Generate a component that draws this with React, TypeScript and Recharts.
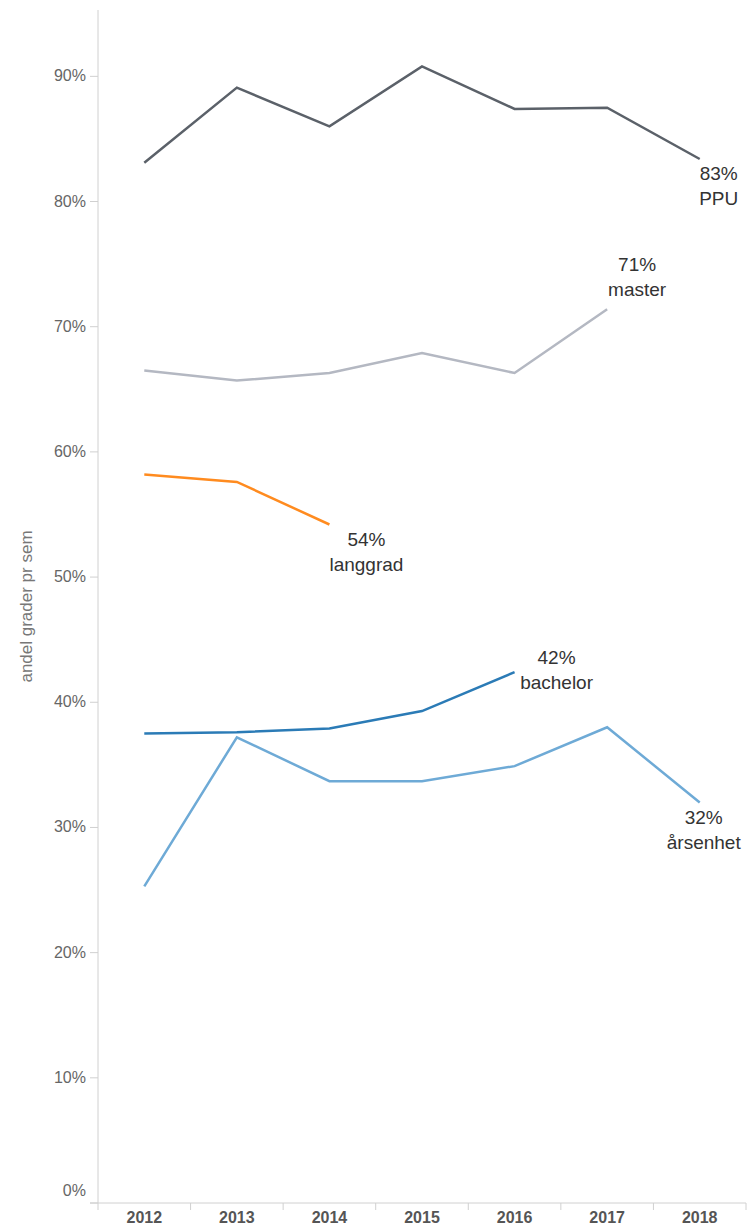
import { LineChart, Line, XAxis, YAxis, LabelList } from 'recharts';

const YEARS = ['2012', '2013', '2014', '2015', '2016', '2017', '2018'];

const PPU = [83.1, 89.1, 86.0, 90.8, 87.4, 87.5, 83.4];
const MASTER = [66.5, 65.7, 66.3, 67.9, 66.3, 71.4, null];
const LANGGRAD = [58.2, 57.6, 54.2, null, null, null, null];
const BACHELOR = [37.5, 37.6, 37.9, 39.3, 42.4, null, null];
const ARSENHET = [25.3, 37.2, 33.7, 33.7, 34.9, 38.0, 32.0];

const Y_TICKS = [0, 10, 20, 30, 40, 50, 60, 70, 80, 90];

const FONT = '"Liberation Sans", Arial, sans-serif';

const chartData = YEARS.map((year, i) => ({
  year,
  ppu: PPU[i],
  master: MASTER[i],
  langgrad: LANGGRAD[i],
  bachelor: BACHELOR[i],
  arsenhet: ARSENHET[i],
}));

// label placement relative to the last point of each line
const SERIES = [
  { key: 'ppu', name: 'PPU', values: PPU, color: '#5b6169', dx: 19, dy: 14 },
  { key: 'master', name: 'master', values: MASTER, color: '#b4b8c2', dx: 30, dy: -45 },
  { key: 'langgrad', name: 'langgrad', values: LANGGRAD, color: '#ff8b1f', dx: 37, dy: 14 },
  { key: 'bachelor', name: 'bachelor', values: BACHELOR, color: '#2b7bb6', dx: 42, dy: -15 },
  { key: 'arsenhet', name: 'årsenhet', values: ARSENHET, color: '#6eaad6', dx: 4, dy: 15 },
];

function lastIndex(values: (number | null)[]) {
  let idx = -1;
  values.forEach((v, i) => { if (v != null) idx = i; });
  return idx;
}

function EndLabel(props: any, s: typeof SERIES[number]) {
  const { x, y, index, value } = props;
  if (index !== lastIndex(s.values) || value == null) return null;
  const cx = Number(x) + s.dx;
  const cy = Number(y) + s.dy;
  return (
    <g>
      <text x={cx} y={cy} dy={7} textAnchor="middle" fontSize={19} fontFamily={FONT} fill="#333">
        {Math.round(value)}%
      </text>
      <text x={cx} y={cy + 25} dy={7} textAnchor="middle" fontSize={19} fontFamily={FONT} fill="#333">
        {s.name}
      </text>
    </g>
  );
}

function XTick(props: any) {
  const { x, y, payload, index, visibleTicksCount } = props;
  const off = payload.offset || 0;
  return (
    <g>
      {index === 0 && (
        <line x1={x - off - 8} x2={x - off} y1={y} y2={y} stroke="#d0d0d0" />
      )}
      <line x1={x - off} x2={x - off} y1={y} y2={y + 7} stroke="#d0d0d0" />
      {index === visibleTicksCount - 1 && (
        <line x1={x + off} x2={x + off} y1={y} y2={y + 7} stroke="#d0d0d0" />
      )}
      <text x={x} y={y + 14} dy={6} textAnchor="middle" fontSize={16} fontWeight="bold" fontFamily={FONT} fill="#555">
        {payload.value}
      </text>
    </g>
  );
}

function YTick(props: any) {
  const { x, y, payload } = props;
  const shift = payload.value === 0 ? -12 : 0;
  return (
    <text x={x} y={y + shift} dy={5} textAnchor="end" fontSize={16} fontFamily={FONT} fill="#666">
      {payload.value}%
    </text>
  );
}

export default function App() {
  return (
    <div style={{ position: 'absolute', left: 0, top: 0, background: '#fff' }}>
      <LineChart width={749} height={1228} data={chartData} margin={{ top: 10, right: 3, bottom: 0, left: 0 }}>
        <XAxis
          dataKey="year"
          scale="band"
          axisLine={{ stroke: '#d0d0d0' }}
          tickLine={false}
          tickSize={0}
          tickMargin={0}
          height={25}
          tick={XTick}
        />
        <XAxis
          xAxisId="top"
          dataKey="year"
          orientation="top"
          scale="band"
          height={0}
          tick={false}
          tickLine={false}
          axisLine={{ stroke: '#e3e3e3' }}
        />
        <YAxis
          domain={[0, 95.3]}
          ticks={Y_TICKS}
          allowDataOverflow
          width={98}
          tickSize={8}
          tickMargin={4}
          axisLine={{ stroke: '#d0d0d0' }}
          tickLine={{ stroke: '#d0d0d0' }}
          tick={YTick}
          label={{
            content: ({ viewBox }: any) => (
              <text
                x={viewBox.x + 26}
                y={viewBox.y + viewBox.height / 2}
                transform={`rotate(-90, ${viewBox.x + 26}, ${viewBox.y + viewBox.height / 2})`}
                textAnchor="middle"
                dominantBaseline="central"
                fontSize={17}
                fontFamily={FONT}
                fill="#777"
              >
                andel grader pr sem
              </text>
            ),
          }}
        />
        <YAxis
          yAxisId="right"
          orientation="right"
          width={0}
          tick={false}
          tickLine={false}
          axisLine={{ stroke: '#dddddd' }}
        />
        {SERIES.map((s) => (
          <Line
            key={s.key}
            type="linear"
            dataKey={s.key}
            stroke={s.color}
            strokeWidth={2.5}
            dot={false}
            activeDot={false}
            isAnimationActive={false}
          >
            <LabelList dataKey={s.key} content={(p: any) => EndLabel(p, s)} />
          </Line>
        ))}
      </LineChart>
    </div>
  );
}
